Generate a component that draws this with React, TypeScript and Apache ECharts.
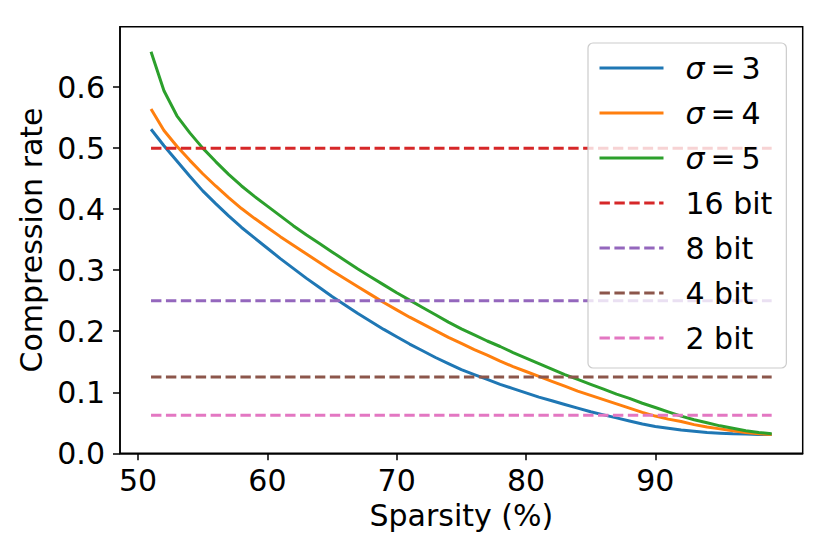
import React, { useEffect, useRef } from "react";
import * as echarts from "echarts";

const sparsity = [
  51, 52, 53, 54, 55, 56, 57, 58, 59, 60,
  61, 62, 63, 64, 65, 66, 67, 68, 69, 70,
  71, 72, 73, 74, 75, 76, 77, 78, 79, 80,
  81, 82, 83, 84, 85, 86, 87, 88, 89, 90,
  91, 92, 93, 94, 95, 96, 97, 98, 99,
];

const sigma3 = [
  0.531, 0.504, 0.479, 0.454, 0.43, 0.409, 0.389, 0.37, 0.353, 0.336,
  0.319, 0.303, 0.287, 0.272, 0.257, 0.243, 0.229, 0.216, 0.203, 0.191,
  0.179, 0.168, 0.157, 0.147, 0.137, 0.129, 0.121, 0.113, 0.106, 0.099,
  0.092, 0.086, 0.08, 0.074, 0.068, 0.063, 0.058, 0.053, 0.048, 0.044,
  0.041, 0.038, 0.036, 0.034, 0.033, 0.032, 0.0315, 0.031, 0.031,
];

const sigma4 = [
  0.564, 0.529, 0.503, 0.48, 0.458, 0.438, 0.419, 0.401, 0.385, 0.37,
  0.355, 0.341, 0.327, 0.313, 0.299, 0.286, 0.273, 0.26, 0.247, 0.235,
  0.223, 0.212, 0.201, 0.19, 0.18, 0.17, 0.161, 0.151, 0.142, 0.134,
  0.126, 0.118, 0.11, 0.102, 0.095, 0.088, 0.081, 0.074, 0.067, 0.061,
  0.056, 0.052, 0.047, 0.043, 0.04, 0.037, 0.034, 0.032, 0.031,
];

const sigma5 = [
  0.658, 0.594, 0.553, 0.525, 0.5, 0.478, 0.457, 0.438, 0.421, 0.405,
  0.389, 0.373, 0.358, 0.344, 0.33, 0.316, 0.302, 0.289, 0.276, 0.263,
  0.251, 0.239, 0.227, 0.215, 0.204, 0.194, 0.184, 0.175, 0.165, 0.156,
  0.147, 0.138, 0.129, 0.121, 0.113, 0.105, 0.097, 0.09, 0.082, 0.075,
  0.068, 0.061, 0.055, 0.05, 0.045, 0.041, 0.037, 0.034, 0.032,
];

const curveNames = ["σ=3", "σ=4", "σ=5"];
const curveColors = ["#1f77b4", "#ff7f0e", "#2ca02c"];

const bitNames = ["16 bit", "8 bit", "4 bit", "2 bit"];
const bitRates = [0.5, 0.25, 0.125, 0.0625];
const bitColors = ["#d62728", "#9467bd", "#8c564b", "#e377c2"];

const xTicks = [50, 60, 70, 80, 90];
const yTicks = [0, 0.1, 0.2, 0.3, 0.4, 0.5, 0.6];

const FONT = "DejaVu Sans";

export default function App() {
  const ref = useRef<HTMLDivElement>(null);

  useEffect(() => {
    if (!ref.current) return;
    const chart = echarts.init(ref.current, undefined, { renderer: "svg" });
    const curves = [sigma3, sigma4, sigma5];
    const lw = 3;

    const series: any[] = [];
    curves.forEach((vals, k) => {
      series.push({
        name: curveNames[k],
        type: "line",
        data: sparsity.map((x, i) => [x, vals[i]]),
        symbol: "none",
        color: curveColors[k],
        lineStyle: { width: lw, color: curveColors[k] },
      });
    });
    bitRates.forEach((r, k) => {
      series.push({
        name: bitNames[k],
        type: "line",
        data: [
          [sparsity[0], r],
          [sparsity[sparsity.length - 1], r],
        ],
        symbol: "none",
        color: bitColors[k],
        lineStyle: { width: lw, color: bitColors[k], type: [10.4, 4.5] },
      });
    });

    const axisLine = { show: true, lineStyle: { color: "#000", width: 1.5 } };

    chart.setOption({
      animation: false,
      backgroundColor: "#fff",
      textStyle: { fontFamily: FONT },
      grid: {
        left: 120,
        right: 27.3,
        top: 26.7,
        bottom: 100.7,
        show: true,
        borderColor: "#000",
        borderWidth: 1.5,
        backgroundColor: "transparent",
      },
      legend: {
        orient: "vertical",
        left: 588,
        top: 43,
        itemWidth: 64,
        itemHeight: 14,
        itemGap: 15,
        padding: [10, 14, 15, 10],
        backgroundColor: "rgba(255,255,255,0.8)",
        borderColor: "#cccccc",
        borderWidth: 1.2,
        borderRadius: 5,
        itemStyle: { opacity: 0, color: "rgba(0,0,0,0)", borderWidth: 0 },
        lineStyle: { width: lw },
        data: [...curveNames, ...bitNames],
        formatter: (name: string) =>
          name.startsWith("σ") ? `{s|σ}\u2009=\u2009${name.slice(2)}` : name,
        textStyle: {
          fontFamily: FONT,
          fontSize: 30,
          color: "#000",
          lineHeight: 30,
          padding: [0, 0, 0, 17],
          rich: {
            s: {
              fontFamily: FONT,
              fontSize: 30,
              fontStyle: "italic",
              color: "#000",
              lineHeight: 30,
            },
          },
        },
      },
      xAxis: {
        type: "value",
        min: 48.6,
        max: 101.4,
        name: "Sparsity (%)",
        nameLocation: "middle",
        nameGap: 45,
        nameTextStyle: { fontFamily: FONT, fontSize: 30, color: "#000" },
        axisLine,
        axisTick: {
          show: true,
          customValues: xTicks,
          length: 7,
          lineStyle: { color: "#000", width: 1.5 },
        },
        axisLabel: {
          customValues: xTicks,
          fontFamily: FONT,
          fontSize: 30,
          color: "#000",
          margin: 12,
        },
        splitLine: { show: false },
      },
      yAxis: {
        type: "value",
        min: 0,
        max: 0.699,
        name: "Compression rate",
        nameLocation: "middle",
        nameGap: 73,
        nameTextStyle: { fontFamily: FONT, fontSize: 30, color: "#000" },
        axisLine,
        axisTick: {
          show: true,
          customValues: yTicks,
          length: 7,
          lineStyle: { color: "#000", width: 1.5 },
        },
        axisLabel: {
          customValues: yTicks,
          fontFamily: FONT,
          fontSize: 30,
          color: "#000",
          margin: 15,
          formatter: (v: number) => v.toFixed(1),
        },
        splitLine: { show: false },
      },
      series,
    });

    return () => chart.dispose();
  }, []);

  return (
    <div
      ref={ref}
      style={{ position: "absolute", left: 0, top: 0, width: 830, height: 554 }}
    />
  );
}
